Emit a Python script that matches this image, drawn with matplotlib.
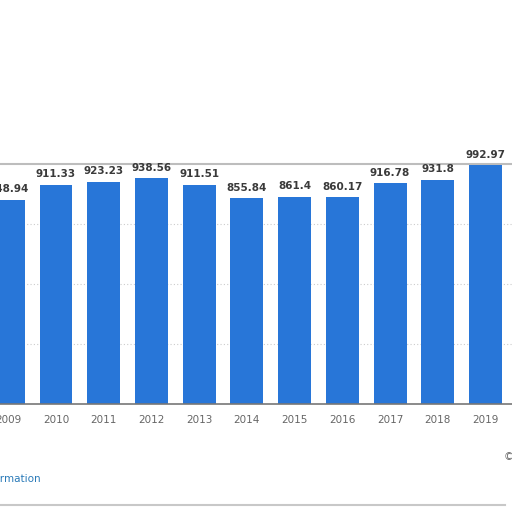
import matplotlib
matplotlib.use("Agg")
import matplotlib.pyplot as plt

years = [2009, 2010, 2011, 2012, 2013, 2014, 2015, 2016, 2017, 2018, 2019]
values = [848.94, 911.33, 923.23, 938.56, 911.51, 855.84, 861.4, 860.17, 916.78, 931.8, 992.97]
labels = ["848.94", "911.33", "923.23", "938.56", "911.51", "855.84", "861.4", "860.17", "916.78", "931.8", "992.97"]

fig = plt.figure(figsize=(5.12, 5.12), dpi=100)
ax = fig.add_axes([0, 108.5 / 512, 1, 240 / 512])

bars = ax.bar(years, values, width=0.69, color="#2876d8", zorder=3)
for b, lab in zip(bars, labels):
    ax.annotate(lab, (b.get_x() + b.get_width() / 2, b.get_height()),
                xytext=(0, 4), textcoords="offset points", ha="center", va="bottom",
                fontsize=7.5, fontweight="bold", color="#3a3a3a", annotation_clip=False)

ax.set_xlim(2008.826, 2019.555)
ax.set_ylim(0, 1000)
ax.set_xticks(years)
ax.set_xticklabels([str(y) for y in years], fontsize=7.5, color="#666666")
ax.set_yticks([250, 500, 750])
ax.tick_params(axis="y", left=False, labelleft=False)
ax.tick_params(axis="x", length=0, pad=8)
ax.grid(axis="y", color="#cccccc", linestyle=(0, (1, 2)), linewidth=0.8, zorder=0)

for s in ["left", "right"]:
    ax.spines[s].set_visible(False)
ax.spines["top"].set_color("#bdbdbd")
ax.spines["top"].set_linewidth(1.5)
ax.spines["bottom"].set_color("#777777")
ax.spines["bottom"].set_linewidth(1.2)
ax.spines["bottom"].set_zorder(4)

fig.text(41 / 512, 1 - 479 / 512, "Additional Information", ha="right", va="center",
         fontsize=7.5, color="#2a7ab8")
fig.text(504 / 512, 1 - 457 / 512, "© Statista 2021", ha="left", va="center",
         fontsize=7.5, color="#666666")
fig.add_artist(plt.Line2D([0, 505 / 512], [1 - 505 / 512, 1 - 505 / 512],
                          color="#c8c8c8", linewidth=1.5))

fig.savefig("out.png", dpi=100)
